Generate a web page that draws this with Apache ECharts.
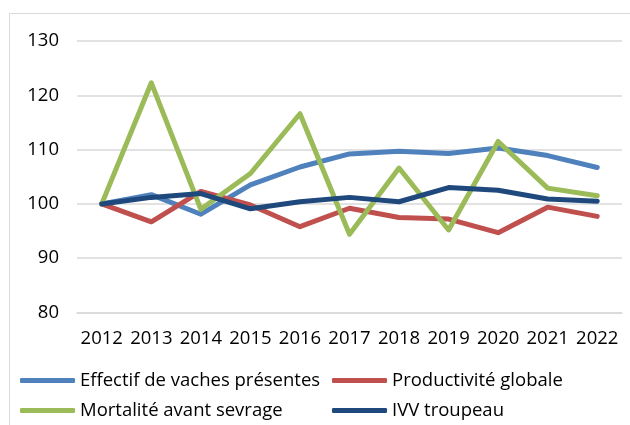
<!DOCTYPE html>
<html>
<head>
<meta charset="utf-8">
<script src="https://cdn.jsdelivr.net/npm/echarts@6/dist/echarts.min.js"></script>
<style>html,body{margin:0;padding:0;background:#fff}#c{width:630px;height:425px}</style>
</head>
<body>
<div id="c"></div>
<script>
var categories = ['2012','2013','2014','2015','2016','2017','2018','2019','2020','2021','2022'];
var effectif = [100, 101.7, 98.1, 103.5, 106.8, 109.2, 109.7, 109.3, 110.3, 108.9, 106.7];
var productivite = [100, 96.7, 102.3, 99.8, 95.8, 99.2, 97.5, 97.2, 94.7, 99.4, 97.7];
var mortalite = [100, 122.3, 99.0, 105.6, 116.6, 94.4, 106.6, 95.2, 111.5, 102.9, 101.5];
var ivv = [100, 101.2, 101.9, 99.1, 100.4, 101.2, 100.4, 103.0, 102.5, 100.9, 100.5];
var names = ['Effectif de vaches présentes', 'Productivité globale', 'Mortalité avant sevrage', 'IVV troupeau'];
var colors = ['#4F81BD', '#C0504D', '#9BBB59', '#1F497D'];
var yTicks = [80, 90, 100, 110, 120, 130];

var font = 'Open Sans';
var fs = 18.5;
function mkSeries(i, data) {
  return {
    name: names[i], type: 'line', data: data, symbol: 'none',
    lineStyle: { color: colors[i], width: 5, cap: 'round', join: 'round' },
    itemStyle: { color: colors[i] }, z: 2 + i, animation: false
  };
}
function mkLegend(i, left, top) {
  return {
    data: [names[i]], left: left, top: top, orient: 'horizontal',
    icon: 'roundRect', itemWidth: 55, itemHeight: 5, padding: 0,
    textStyle: { fontFamily: font, fontSize: fs, color: '#000' },
    selectedMode: false
  };
}
var chart = echarts.init(document.getElementById('c'), null, { renderer: 'canvas' });
chart.setOption({
  animation: false,
  backgroundColor: '#fff',
  graphic: [{ type: 'rect', shape: { x: 9.5, y: 13.5, width: 640, height: 440 }, style: { fill: 'none', stroke: '#d9d9d9', lineWidth: 1 }, z: -1 }],
  grid: { left: 77, right: 8, top: 41, bottom: 112.5, containLabel: false },
  legend: [mkLegend(0, 20, 371), mkLegend(1, 332, 371), mkLegend(2, 20, 401), mkLegend(3, 332, 401)],
  xAxis: {
    type: 'category', data: categories, boundaryGap: true,
    axisLine: { show: true, lineStyle: { color: '#d9d9d9', width: 1.5 } },
    axisTick: { show: false },
    axisLabel: { fontFamily: font, fontSize: fs, color: '#000', margin: 17, interval: 0 }
  },
  yAxis: {
    type: 'value', min: yTicks[0], max: yTicks[yTicks.length - 1], interval: 10,
    axisLine: { show: false }, axisTick: { show: false },
    splitLine: { lineStyle: { color: '#d9d9d9', width: 1.5 } },
    axisLabel: { fontFamily: font, fontSize: fs, color: '#000', margin: 18 }
  },
  series: [mkSeries(0, effectif), mkSeries(1, productivite), mkSeries(2, mortalite), mkSeries(3, ivv)]
});
</script>
</body>
</html>
